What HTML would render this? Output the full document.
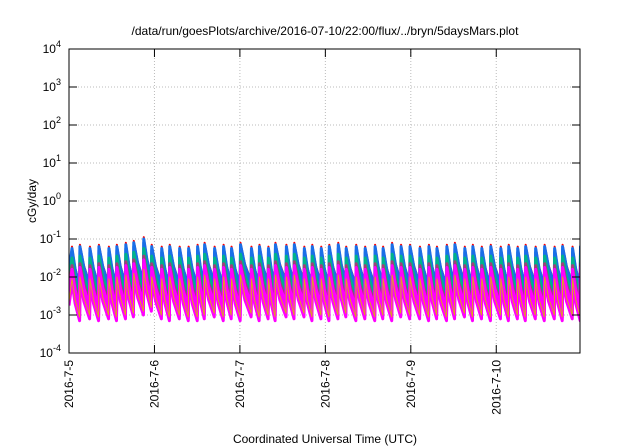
<!DOCTYPE html>
<html><head><meta charset="utf-8"><style>
html,body{margin:0;padding:0;background:#fff;}
svg{display:block;font-family:"Liberation Sans",sans-serif;}
</style></head><body>
<svg id="chart" width="640" height="448" viewBox="0 0 640 448">
<text x="325" y="35" text-anchor="middle" font-size="12">/data/run/goesPlots/archive/2016-07-10/22:00/flux/../bryn/5daysMars.plot</text>
<g id="grid"></g>
<defs><clipPath id="clip"><rect x="69" y="49" width="511" height="304"/></clipPath></defs>
<g id="series" clip-path="url(#clip)"></g>
<rect x="69" y="49" width="511" height="304" fill="none" stroke="#000" stroke-width="1"/>
<g id="axes"></g>
<text transform="translate(36,201) rotate(-90)" text-anchor="middle" font-size="12">cGy/day</text>
<text x="325" y="443" text-anchor="middle" font-size="12">Coordinated Universal Time (UTC)</text>
</svg>
<script>
const dayLabels=["2016-7-5","2016-7-6","2016-7-7","2016-7-8","2016-7-9","2016-7-10"];
const yExponents=[4,3,2,1,0,-1,-2,-3,-4];
const peakDays=[0.035,0.128,0.245,0.35,0.467,0.56,0.665,0.758,0.875,0.968,1.085,1.179,1.295,1.40,1.505,1.587,1.704,1.809,1.902,2.007,2.135,2.229,2.334,2.416,2.544,2.637,2.754,2.847,2.952,3.046,3.151,3.244,3.361,3.466,3.582,3.676,3.781,3.886,3.991,4.107,4.212,4.306,4.422,4.516,4.632,4.726,4.831,4.936,5.053,5.146,5.251,5.344,5.461,5.566,5.683,5.776,5.893,5.986];
const peakLogs=[-1.2,-1.15,-1.2,-1.15,-1.2,-1.15,-1.1,-1.05,-0.95,-1.15,-1.2,-1.15,-1.2,-1.2,-1.15,-1.1,-1.2,-1.15,-1.2,-1.1,-1.2,-1.15,-1.2,-1.1,-1.15,-1.1,-1.2,-1.15,-1.2,-1.15,-1.1,-1.2,-1.15,-1.2,-1.15,-1.2,-1.1,-1.15,-1.15,-1.2,-1.15,-1.2,-1.15,-1.1,-1.2,-1.15,-1.2,-1.15,-1.2,-1.15,-1.2,-1.15,-1.2,-1.15,-1.2,-1.15,-1.2,-1.15];
const decayDecades=[1.0];
const seriesOffsets=[0,-0.05,-0.15,-0.3,-0.5,-0.6,-0.7,-0.8,-0.88,-0.95,-0.85];
const seriesColors=["#ff0000","#1a6fe8","#1a6fe8","#00b38a","#a0407a","#ff00ff","#ff00ff","#ff00ff","#ff00ff","#ff00ff","#e0a020"];
const seriesWidths=[2,3,3,3,3,3,3,3,3,3,1];
const X0=69,X1=580,Y0=49,Y1=353,DAYS=5.98;
const xs=d=>X0+d*(X1-X0)/DAYS;
const ys=l=>Y0+(4-l)*(Y1-Y0)/8;
const ns="http://www.w3.org/2000/svg";
const grid=document.getElementById('grid'),axes=document.getElementById('axes'),sg=document.getElementById('series');
function mk(tag,attrs,parent){const e=document.createElementNS(ns,tag);for(const k in attrs)e.setAttribute(k,attrs[k]);parent.appendChild(e);return e;}
yExponents.forEach(p=>{
  const y=ys(p);
  if(p<4&&p>-4){const g=mk('line',{x1:X0,x2:X1,y1:y,y2:y,stroke:'#bbb','stroke-dasharray':'1,2'},grid);
  
  }
  [[X0,X0+8],[X1-8,X1]].forEach(([a,b])=>{const t=mk('line',{x1:a,x2:b,y1:y,y2:y,stroke:'#000'},axes);
  
  });
  const tx=mk('text',{x:X0-8,y:y+4,'text-anchor':'end','font-size':'12'},axes);
  
  
  tx.appendChild(document.createTextNode('10'));
  const sp=mk('tspan',{dy:'-6','font-size':'9'},tx);sp.textContent=String(p);
});
dayLabels.forEach((lab,i)=>{
  const x=xs(i);
  if(i>0){const g=mk('line',{x1:x,x2:x,y1:Y0,y2:Y1,stroke:'#bbb','stroke-dasharray':'1,2'},grid);
  
  }
  [[Y1-8,Y1],[Y0,Y0+8]].forEach(([a,b])=>{const t=mk('line',{x1:x,x2:x,y1:a,y2:b,stroke:'#000'},axes);
  
  });
  const tx=mk('text',{transform:`translate(${x+4},${Y1+7}) rotate(-90)`,'text-anchor':'end','font-size':'12'},axes);
  
  
  tx.textContent=lab;
});
seriesOffsets.forEach((off,s)=>{
  const D=decayDecades[0];
  let d=`M${xs(0)},${ys(peakLogs[0]+off-0.6*D)}`;
  for(let i=0;i<peakDays.length;i++){
    const t=peakDays[i],p=peakLogs[i]+off;
    const next=i+1<peakDays.length?peakDays[i+1]:DAYS+0.1;
    d+=` L${xs(t)},${ys(p)} L${xs(t+(next-t)*0.4)},${ys(p-D*0.55)} L${xs(next-0.004)},${ys(p-D)}`;
  }
  const path=mk('path',{d:d,fill:'none',stroke:seriesColors[s],'stroke-width':seriesWidths[s],'stroke-linejoin':'round'},sg);
  
  
});
</script>
</body></html>
